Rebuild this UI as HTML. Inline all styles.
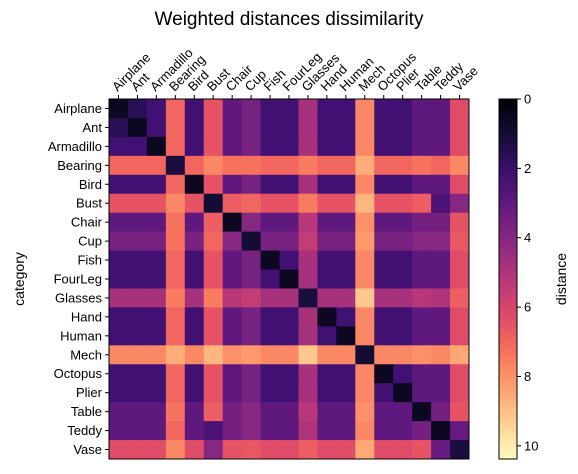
<!DOCTYPE html>
<html><head><meta charset="utf-8"><style>
body{margin:0;background:#fff;font-family:"Liberation Sans",sans-serif;}
svg text{font-family:"Liberation Sans",sans-serif;fill:#000;}
</style></head><body>
<svg id="c" width="578" height="469" viewBox="0 0 578 469" xmlns="http://www.w3.org/2000/svg">
<text x="289" y="25" font-size="19" text-anchor="middle">Weighted distances dissimilarity</text>
<text transform="translate(24,279) rotate(-90)" font-size="14" text-anchor="middle">category</text>
<text transform="translate(566,279) rotate(-90)" font-size="14" text-anchor="middle">distance</text>
<g id="cells"></g>
<g id="axes"></g>
<g id="cbar"></g>
</svg>
<script>
const categories=["Airplane","Ant","Armadillo","Bearing","Bird","Bust","Chair","Cup","Fish","FourLeg","Glasses","Hand","Human","Mech","Octopus","Plier","Table","Teddy","Vase"];
const distances=[
[0.6,1.6,2.2,7.0,2.2,6.5,3.0,3.6,2.2,2.2,4.8,2.2,2.2,7.8,2.2,2.2,3.0,3.0,6.3],
[1.6,0.6,2.2,7.0,2.2,6.5,3.0,3.6,2.2,2.2,4.8,2.2,2.2,7.8,2.2,2.2,3.0,3.0,6.3],
[2.2,2.2,0.6,7.0,2.2,6.5,3.0,3.6,2.2,2.2,4.8,2.2,2.2,7.8,2.2,2.2,3.0,3.0,6.3],
[7.0,7.0,7.0,1.2,7.0,7.8,7.3,7.3,7.0,7.0,7.5,7.0,7.0,8.6,7.0,7.0,7.3,7.0,7.8],
[2.2,2.2,2.2,7.0,0.6,6.5,3.0,3.6,2.2,2.2,4.8,2.2,2.2,7.8,2.2,2.2,3.0,3.0,6.3],
[6.5,6.5,6.5,7.8,6.5,1.0,6.8,7.0,6.5,6.5,7.5,6.5,6.5,8.8,6.5,6.5,6.8,2.5,4.0],
[3.0,3.0,3.0,7.3,3.0,6.8,0.6,4.0,3.0,3.0,5.2,3.0,3.0,8.0,3.0,3.0,3.5,3.5,6.5],
[3.6,3.6,3.6,7.3,3.6,7.0,4.0,1.0,3.6,3.6,5.5,3.6,3.6,8.2,3.6,3.6,4.0,4.0,6.6],
[2.2,2.2,2.2,7.0,2.2,6.5,3.0,3.6,0.6,2.2,4.8,2.2,2.2,7.8,2.2,2.2,3.0,3.0,6.3],
[2.2,2.2,2.2,7.0,2.2,6.5,3.0,3.6,2.2,0.6,4.8,2.2,2.2,7.8,2.2,2.2,3.0,3.0,6.3],
[4.8,4.8,4.8,7.5,4.8,7.5,5.2,5.5,4.8,4.8,1.2,4.8,4.8,9.2,4.8,4.8,5.2,5.0,6.8],
[2.2,2.2,2.2,7.0,2.2,6.5,3.0,3.6,2.2,2.2,4.8,0.6,2.2,7.8,2.2,2.2,3.0,3.0,6.3],
[2.2,2.2,2.2,7.0,2.2,6.5,3.0,3.6,2.2,2.2,4.8,2.2,0.6,7.8,2.2,2.2,3.0,3.0,6.3],
[7.8,7.8,7.8,8.6,7.8,8.8,8.0,8.2,7.8,7.8,9.2,7.8,7.8,1.0,7.8,7.8,8.0,7.8,8.5],
[2.2,2.2,2.2,7.0,2.2,6.5,3.0,3.6,2.2,2.2,4.8,2.2,2.2,7.8,0.6,2.2,3.0,3.0,6.3],
[2.2,2.2,2.2,7.0,2.2,6.5,3.0,3.6,2.2,2.2,4.8,2.2,2.2,7.8,2.2,0.6,3.0,3.0,6.3],
[3.0,3.0,3.0,7.3,3.0,6.8,3.5,4.0,3.0,3.0,5.2,3.0,3.0,8.0,3.0,3.0,0.6,3.5,6.5],
[3.0,3.0,3.0,7.0,3.0,2.5,3.5,4.0,3.0,3.0,5.0,3.0,3.0,7.8,3.0,3.0,3.5,0.6,3.2],
[6.3,6.3,6.3,7.8,6.3,4.0,6.5,6.6,6.3,6.3,6.8,6.3,6.3,8.5,6.3,6.3,6.5,3.2,1.2]];
const cbarTicks=[0,2,4,6,8,10];
const vmax=10.38;

const NS="http://www.w3.org/2000/svg";
const X0=109,Y0=99,W=360,H=360;
const stops=[[0,0,0,4],[.1,20,14,54],[.2,59,15,112],[.3,100,26,128],[.4,140,41,129],[.5,183,55,121],[.6,222,73,104],[.7,247,112,92],[.8,254,159,109],[.9,254,207,146],[1,252,253,191]];
function magma(t){t=Math.max(0,Math.min(1,t));for(let i=1;i<stops.length;i++){if(t<=stops[i][0]){const a=stops[i-1],b=stops[i],f=(t-a[0])/(b[0]-a[0]);return `rgb(${[1,2,3].map(k=>Math.round(a[k]+(b[k]-a[k])*f)).join(',')})`;}}return 'rgb(252,253,191)';}
const n=categories.length,cw=W/n,ch=H/n;
const xs=i=>X0+i*cw, ys=j=>Y0+j*ch;
const cells=document.getElementById('cells');
distances.forEach((row,j)=>row.forEach((v,i)=>{
 const r=document.createElementNS(NS,'rect');
 r.setAttribute('x',xs(i));r.setAttribute('y',ys(j));r.setAttribute('width',cw+0.5);r.setAttribute('height',ch+0.5);
 r.setAttribute('fill',magma(v/vmax));
 
 
 cells.appendChild(r);
}));
const axes=document.getElementById('axes');
function el(tag,attrs,parent,txt){const e=document.createElementNS(NS,tag);for(const k in attrs)e.setAttribute(k,attrs[k]);if(txt!==undefined)e.textContent=txt;parent.appendChild(e);return e;}
const frame=el('rect',{x:X0,y:Y0,width:W,height:H,fill:'none',stroke:'#000','stroke-width':1},axes);


categories.forEach((c,i)=>{
 const cx=xs(i)+cw/2, cy=ys(i)+ch/2;
 el('line',{x1:cx,x2:cx,y1:Y0,y2:Y0-4,stroke:'#000'},axes);
 const tx=el('text',{transform:`translate(${cx-1},${Y0-7}) rotate(-45)`,'font-size':13},axes,c);
 
 
 el('line',{x1:X0,x2:X0-4,y1:cy,y2:cy,stroke:'#000'},axes);
 const ty=el('text',{x:X0-7,y:cy+4.5,'font-size':13,'text-anchor':'end'},axes,c);
 
 
});
const cb=document.getElementById('cbar');
const CX=499,CW=18,CY0=99,CH=360;
for(let k=0;k<120;k++){
 const r=el('rect',{x:CX,y:CY0+k*CH/120,width:CW,height:CH/120+0.5,fill:magma((k+0.5)/120)},cb);
 
 
}
el('rect',{x:CX,y:CY0,width:CW,height:CH,fill:'none',stroke:'#000'},cb);
cbarTicks.forEach(v=>{
 const y=CY0+v/vmax*CH;
 el('line',{x1:CX+CW,x2:CX+CW+4,y1:y,y2:y,stroke:'#000'},cb);
 const t=el('text',{x:CX+CW+7,y:y+4.5,'font-size':13},cb,String(v));
 
 
});
</script>
</body></html>
